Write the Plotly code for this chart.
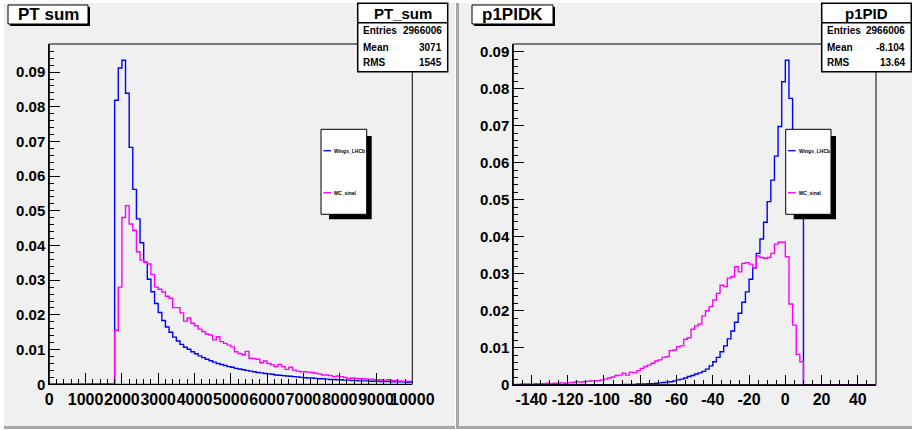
import plotly.graph_objects as go

W, H = 912, 430

# ---------------- data ----------------
pt_lo, pt_hi, pt_nbins = 0, 10000, 100
pt_wings = [
    0, 0, 0, 0, 0, 0, 0, 0, 0, 0,
    0, 0, 0, 0, 0, 0, 0, 0, 0.0819, 0.0912,
    0.0934, 0.0839, 0.0683, 0.0562, 0.0477, 0.0408, 0.0352, 0.0303, 0.0267, 0.0233,
    0.0207, 0.0184, 0.0165, 0.0150, 0.0136, 0.0125, 0.0115, 0.0107, 0.0101, 0.0094,
    0.0088, 0.0082, 0.0077, 0.0072, 0.0068, 0.0064, 0.0060, 0.0057, 0.0054, 0.0051,
    0.0049, 0.0046, 0.0044, 0.0042, 0.0040, 0.0038, 0.0036, 0.0034, 0.0033, 0.0031,
    0.0030, 0.0029, 0.0027, 0.0026, 0.0025, 0.0024, 0.0023, 0.0022, 0.0021, 0.0020,
    0.0019, 0.0018, 0.0018, 0.0017, 0.0016, 0.0016, 0.0015, 0.0014, 0.0014, 0.0013,
    0.0013, 0.0012, 0.0012, 0.0011, 0.0011, 0.0010, 0.0010, 0.0010, 0.0009, 0.0009,
    0.0009, 0.0008, 0.0008, 0.0008, 0.0007, 0.0007, 0.0007, 0.0007, 0.0006, 0.0006,
]
pt_mc = [
    0, 0, 0, 0, 0, 0, 0, 0, 0, 0,
    0, 0, 0, 0, 0, 0, 0, 0, 0.0156, 0.0280,
    0.0481, 0.0515, 0.0462, 0.0444, 0.0382, 0.0358, 0.0352, 0.0347, 0.0317, 0.0280,
    0.0274, 0.0266, 0.0254, 0.0248, 0.0221, 0.0221, 0.0206, 0.0182, 0.0191, 0.0176,
    0.0169, 0.0159, 0.0152, 0.0145, 0.0142, 0.0128, 0.0137, 0.0123, 0.0118, 0.0113,
    0.0108, 0.0094, 0.0089, 0.0085, 0.0095, 0.0075, 0.0074, 0.0072, 0.0062, 0.0067,
    0.0060, 0.0056, 0.0051, 0.0057, 0.0051, 0.0043, 0.0049, 0.0041, 0.0038, 0.0036,
    0.0036, 0.0035, 0.0034, 0.0032, 0.0030, 0.0027, 0.0027, 0.0025, 0.0022, 0.0024,
    0.0022, 0.0020, 0.0017, 0.0018, 0.0017, 0.0016, 0.0016, 0.0015, 0.0015, 0.0014,
    0.0013, 0.0013, 0.0012, 0.0013, 0.0011, 0.0011, 0.0010, 0.0009, 0.0009, 0.0008,
]

pid_lo, pid_hi, pid_nbins = -150, 50, 100
pid_wings = [
    0, 0, 0, 0, 0, 0, 0, 0, 0, 0,
    0, 0, 0, 0, 0, 0, 0, 0, 0, 0,
    0, 0, 0, 0, 0, 0, 0, 0, 0, 0,
    0.0001, 0.0001, 0.0001, 0.0001, 0.0002, 0.0002, 0.0002, 0.0003, 0.0003, 0.0004,
    0.0005, 0.0006, 0.0007, 0.0008, 0.0010, 0.0013, 0.0015, 0.0018, 0.0022, 0.0025,
    0.0029, 0.0032, 0.0036, 0.0042, 0.0051, 0.0062, 0.0074, 0.0089, 0.0105, 0.0124,
    0.0145, 0.0169, 0.0193, 0.0223, 0.0251, 0.0285, 0.0316, 0.0355, 0.0394, 0.0439,
    0.0495, 0.0553, 0.0618, 0.0698, 0.0819, 0.0877, 0.0774, 0.0670, 0.0590, 0.0520,
    0, 0, 0, 0, 0, 0, 0, 0, 0, 0,
    0, 0, 0, 0, 0, 0, 0, 0, 0, 0,
]
pid_mc = [
    0.0001, 0.0001, 0.0002, 0.0002, 0.0002, 0.0002, 0.0003, 0.0003, 0.0003, 0.0004,
    0.0003, 0.0004, 0.0004, 0.0005, 0.0004, 0.0005, 0.0006, 0.0008, 0.0007, 0.0008,
    0.0009, 0.0010, 0.0010, 0.0011, 0.0013, 0.0015, 0.0018, 0.0021, 0.0025, 0.0026,
    0.0031, 0.0026, 0.0034, 0.0032, 0.0038, 0.0044, 0.0049, 0.0053, 0.0058, 0.0064,
    0.0067, 0.0074, 0.0076, 0.0092, 0.0094, 0.0103, 0.0105, 0.0123, 0.0127, 0.0150,
    0.0159, 0.0164, 0.0186, 0.0200, 0.0211, 0.0229, 0.0247, 0.0269, 0.0265, 0.0288,
    0.0292, 0.0319, 0.0305, 0.0328, 0.0330, 0.0326, 0.0316, 0.0348, 0.0344, 0.0342,
    0.0344, 0.0355, 0.0380, 0.0385, 0.0385, 0.0346, 0.0218, 0.0161, 0.0082, 0.0062,
    0, 0, 0, 0, 0, 0, 0, 0, 0, 0,
    0, 0, 0, 0, 0, 0, 0, 0, 0, 0,
]

series_names = ["Wings_LHCb", "MC_sinal"]
series_colors = ["#0000ff", "#ff00ff"]

pt_title, pid_title = "PT sum", "p1PIDK"
pt_stats_title, pid_stats_title = "PT_sum", "p1PID"
stat_labels = ["Entries", "Mean", "RMS"]
pt_stats = ["2966006", "3071", "1545"]
pid_stats = ["2966006", "-8.104", "13.64"]

pid_tickvals = [-140, -120, -100, -80, -60, -40, -20, 0, 20, 40]
pid_ticktext = ["-140", "-120", "-100", "-80", "-60", "-40", "-20", "0", "20", "40"]

# ---------------- helpers ----------------
def px(x):
    return x / W

def py(y):
    return 1 - y / H

def step_xy(lo, hi, n, vals):
    w = (hi - lo) / n
    xs = [lo + i * w for i in range(n + 1)]
    ys = list(vals) + [vals[-1]]
    return xs, ys

FONT = "Liberation Sans"
PAD_BG = "#f0f0f0"

fig = go.Figure()

for xa, ya, lo, hi, n, sets in [
    ("x", "y", pt_lo, pt_hi, pt_nbins, [pt_wings, pt_mc]),
    ("x2", "y2", pid_lo, pid_hi, pid_nbins, [pid_wings, pid_mc]),
]:
    for vals, name, col in zip(sets, series_names, series_colors):
        xs, ys = step_xy(lo, hi, n, vals)
        fig.add_trace(go.Scatter(
            x=xs, y=ys, mode="lines", line=dict(color=col, width=1.4, shape="hv"),
            xaxis=xa, yaxis=ya, name=name, showlegend=False, cliponaxis=False,
            hoverinfo="skip",
        ))

xtickfont = dict(family=FONT, size=16, color="black", weight="bold")
ytickfont = dict(family=FONT, size=15, color="black", weight="bold")
common_axis = dict(showgrid=False, zeroline=False, showline=True, linecolor="black",
                   linewidth=1, ticks="inside", tickcolor="black", tickwidth=1,
                   fixedrange=True, tickangle=0, automargin=False)

L = dict(x0=49.3, x1=412.3, y0=44, y1=384.3)
R = dict(x0=513.3, x1=876.0, y0=44, y1=384.7)

fig.update_layout(
    width=W, height=H, autosize=False, margin=dict(l=0, r=0, t=0, b=0, pad=0),
    paper_bgcolor="white", plot_bgcolor="rgba(0,0,0,0)",
    xaxis=dict(domain=[px(L["x0"]), px(L["x1"])], range=[pt_lo, pt_hi], anchor="y",
               dtick=1000, tick0=0, ticklen=11, tickformat="d", tickfont=xtickfont,
               minor=dict(dtick=200, tick0=0, ticklen=5, ticks="inside", tickcolor="black"),
               **common_axis),
    yaxis=dict(domain=[py(L["y1"]), py(L["y0"])], range=[0, 0.0981], anchor="x",
               dtick=0.01, tick0=0, ticklen=11, tickfont=ytickfont,
               minor=dict(dtick=0.002, tick0=0, ticklen=5, ticks="inside", tickcolor="black"),
               **common_axis),
    xaxis2=dict(domain=[px(R["x0"]), px(R["x1"])], range=[pid_lo, pid_hi], anchor="y2",
                tickmode="array", tickvals=pid_tickvals, ticktext=pid_ticktext, ticklen=10,
                tickfont=xtickfont,
                minor=dict(dtick=5, tick0=0, ticklen=5, ticks="inside", tickcolor="black"),
                **common_axis),
    yaxis2=dict(domain=[py(R["y1"]), py(R["y0"])], range=[0, 0.0921], anchor="x2",
                dtick=0.01, tick0=0, ticklen=11, tickfont=ytickfont,
                minor=dict(dtick=0.002, tick0=0, ticklen=5, ticks="inside", tickcolor="black"),
                **common_axis),
)

shapes = []
ann = []

def rect(x0, y0, x1, y1, fill=None, line=None, lw=1, layer="above"):
    shapes.append(dict(type="rect", xref="paper", yref="paper",
                       x0=px(x0), x1=px(x1), y0=py(y1), y1=py(y0),
                       fillcolor=fill if fill else "rgba(0,0,0,0)",
                       line=dict(color=line if line else "rgba(0,0,0,0)", width=lw if line else 0),
                       layer=layer))

def hline(x0, x1, y, color="black", lw=1):
    shapes.append(dict(type="line", xref="paper", yref="paper",
                       x0=px(x0), x1=px(x1), y0=py(y), y1=py(y),
                       line=dict(color=color, width=lw), layer="above"))

def text(x, y, s, size, xanchor="center", color="black"):
    ann.append(dict(x=px(x), y=py(y), xref="paper", yref="paper", text=s, showarrow=False,
                    xanchor=xanchor, yanchor="middle",
                    font=dict(family=FONT, size=size, color=color, weight="bold")))

# pads
rect(4, 3, 455, 426, fill=PAD_BG, layer="below")
rect(4, 426, 455, 429, fill="#a8a8a8", layer="below")
rect(456, 3, 459, 429, fill="#a8a8a8", layer="below")
rect(459, 3, 912, 426, fill=PAD_BG, layer="below")
rect(459, 426, 912, 429, fill="#a8a8a8", layer="below")

# frames
for F in (L, R):
    rect(F["x0"], F["y0"], F["x1"], F["y1"], line="black", lw=1)

# titles
for (bx0, bx1, t) in [(8, 88, pt_title), (472, 553, pid_title)]:
    rect(bx0 + 2, 7, bx1 + 2, 26, fill="black")
    rect(bx0, 5, bx1, 24, fill="white", line="black", lw=1)
    text((bx0 + bx1) / 2, 14.8, t, 17)

# stats boxes
for (sx0, sx1, st, vals) in [(357.7, 447.7, pt_stats_title, pt_stats),
                             (821.7, 911.3, pid_stats_title, pid_stats)]:
    rect(sx0, 3.3, sx1, 71.7, fill="white", line="black", lw=1.5)
    hline(sx0, sx1, 22.7, lw=1.5)
    text((sx0 + sx1) / 2, 13.3, st, 15)
    for lab, v, yy in zip(stat_labels, vals, [30.6, 47.7, 62.9]):
        text(sx0 + 3.5, yy, lab, 10, xanchor="left")
        text(sx1 - 4.2, yy, v, 10, xanchor="right")

# legends
for lx0, lx1 in [(321, 366.7), (785.7, 831)]:
    rect(lx0 + 8, 136, lx1 + 5, 219.3, fill="black")
    rect(lx0, 129.3, lx1, 214.3, fill="white", line="black", lw=1)
    for name, col, yy in zip(series_names, series_colors, [150.7, 192.7]):
        hline(lx0 + 2.3, lx0 + 10, yy, color=col, lw=1.3)
        text(lx0 + 11, yy, name, 5, xanchor="left")

fig.update_layout(shapes=shapes, annotations=ann)
fig.write_html(
    "out.html",
    include_plotlyjs=True,
    full_html=True,
    default_width="912px",
    default_height="430px",
    config={"responsive": False, "displayModeBar": False},
    post_script="document.body.style.margin='0';document.body.style.padding='0';document.body.style.overflow='hidden';",
)
